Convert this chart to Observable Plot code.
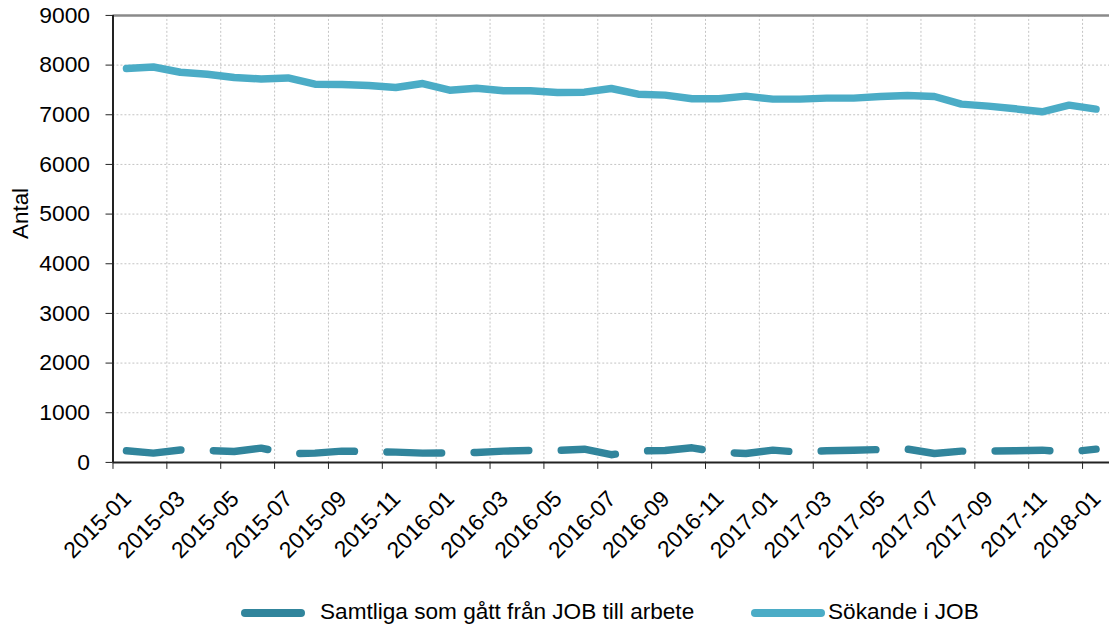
<!DOCTYPE html>
<html>
<head>
<meta charset="utf-8">
<script src="https://cdn.jsdelivr.net/npm/d3@7"></script>
<script src="https://cdn.jsdelivr.net/npm/@observablehq/plot@0.6"></script>
<style>
  html, body { margin: 0; padding: 0; background: #fff; overflow: hidden; width: 1109px; height: 630px; }
  #wrap { position: relative; width: 1109px; height: 630px; font-family: "Liberation Sans", Arial, sans-serif; }
  #legend { position: absolute; left: 0; top: 0; width: 1109px; height: 630px; pointer-events: none; }
  .lg-sw { position: absolute; height: 8px; border-radius: 4px; top: 609px; }
  .lg-tx { position: absolute; top: 598px; font-size: 22.6px; line-height: 28px; color: #000; white-space: nowrap; }
</style>
</head>
<body>
<div id="wrap"><div id="chart"></div><div id="legend"></div></div>
<script>
const months = [
  "2015-01","2015-02","2015-03","2015-04","2015-05","2015-06","2015-07","2015-08","2015-09","2015-10","2015-11","2015-12",
  "2016-01","2016-02","2016-03","2016-04","2016-05","2016-06","2016-07","2016-08","2016-09","2016-10","2016-11","2016-12",
  "2017-01","2017-02","2017-03","2017-04","2017-05","2017-06","2017-07","2017-08","2017-09","2017-10","2017-11","2017-12",
  "2018-01"
];
const sokande = [7930,7962,7856,7816,7750,7722,7742,7615,7609,7589,7549,7629,
                 7495,7535,7482,7482,7449,7455,7529,7415,7395,7321,7321,7375,
                 7315,7315,7335,7335,7368,7389,7368,7214,7174,7120,7060,7194,
                 7114];
const samtliga = [234,187,250,240,220,287,175,187,227,218,207,187,
                  190,200,227,240,240,267,155,230,240,294,205,180,
                  247,205,234,247,260,267,180,227,230,234,247,210,
                  267];
const yTicks = [0,1000,2000,3000,4000,5000,6000,7000,8000,9000];
const seriesNames = ["Samtliga som gått från JOB till arbete", "Sökande i JOB"];
const seriesColors = ["#31859C", "#4BACC6"];

const idx = months.map((m, i) => i);
const labelIdx = idx.filter(i => i % 2 === 0);          // labelled months
const tickPos = labelIdx.map(i => i - 0.5);              // category boundaries
const gridXPos = tickPos.filter(t => t > 0);
const rowsS = idx.map(i => ({i, v: sokande[i]}));
const rowsA = idx.map(i => ({i, v: samtliga[i]}));

const chart = Plot.plot({
  width: 1114,
  height: 570,
  marginLeft: 113,
  marginRight: 0,
  marginTop: 15,
  marginBottom: 106,
  style: {fontFamily: "'Liberation Sans', Arial, sans-serif", fontSize: "23px", color: "#000", background: "#fff", overflow: "visible"},
  x: {type: "linear", domain: [-0.5, months.length - 0.5], axis: null},
  y: {domain: [0, 9000], axis: null},
  marks: [
    Plot.gridY(yTicks.filter(t => t > 0 && t < 9000), {stroke: "#c4c4c4", strokeOpacity: 1, strokeDasharray: "2,2"}),
    Plot.gridX(gridXPos, {stroke: "#c4c4c4", strokeOpacity: 1, strokeDasharray: "2,2"}),
    Plot.ruleY([9000], {stroke: "#8a8a8a", strokeWidth: 2.6}),
    Plot.axisY(yTicks, {tickSize: 7, tickPadding: 16, fontSize: 23, tickFormat: d => String(d), label: null, stroke: "#222"}),
    Plot.axisX(tickPos, {tickSize: 7, tickFormat: () => "", label: null, stroke: "#222"}),
    Plot.ruleX([-0.5], {stroke: "#222", strokeWidth: 2}),
    Plot.ruleY([0], {stroke: "#222", strokeWidth: 2}),
    Plot.text(labelIdx, {x: d => d, text: d => months[d], frameAnchor: "bottom", rotate: -45,
      textAnchor: "end", lineAnchor: "bottom", dx: 6, dy: 38, fontSize: 23, fill: "#000"}),
    Plot.text(["Antal"], {frameAnchor: "left", rotate: -90, dx: -93, fontSize: 22.5, fill: "#000"}),
    Plot.line(rowsA, {x: "i", y: "v", stroke: seriesColors[0], strokeWidth: 7.5,
      strokeLinecap: "round", strokeLinejoin: "round", strokeDasharray: "55,32.6"}),
    Plot.line(rowsS, {x: "i", y: "v", stroke: seriesColors[1], strokeWidth: 7.5,
      strokeLinecap: "round", strokeLinejoin: "round"})
  ]
});
document.getElementById("chart").appendChild(chart);

// legend (HTML, below the SVG area)
const legend = document.getElementById("legend");
const legendItems = [
  {sw: [241, 64], tx: 320},
  {sw: [751, 74], tx: 828}
];
legendItems.forEach((it, k) => {
  const sw = document.createElement("div");
  sw.className = "lg-sw";
  sw.style.left = it.sw[0] + "px";
  sw.style.width = it.sw[1] + "px";
  sw.style.background = seriesColors[k];
  legend.appendChild(sw);
  const tx = document.createElement("div");
  tx.className = "lg-tx";
  tx.style.left = it.tx + "px";
  tx.textContent = seriesNames[k];
  legend.appendChild(tx);
});
</script>
</body>
</html>
